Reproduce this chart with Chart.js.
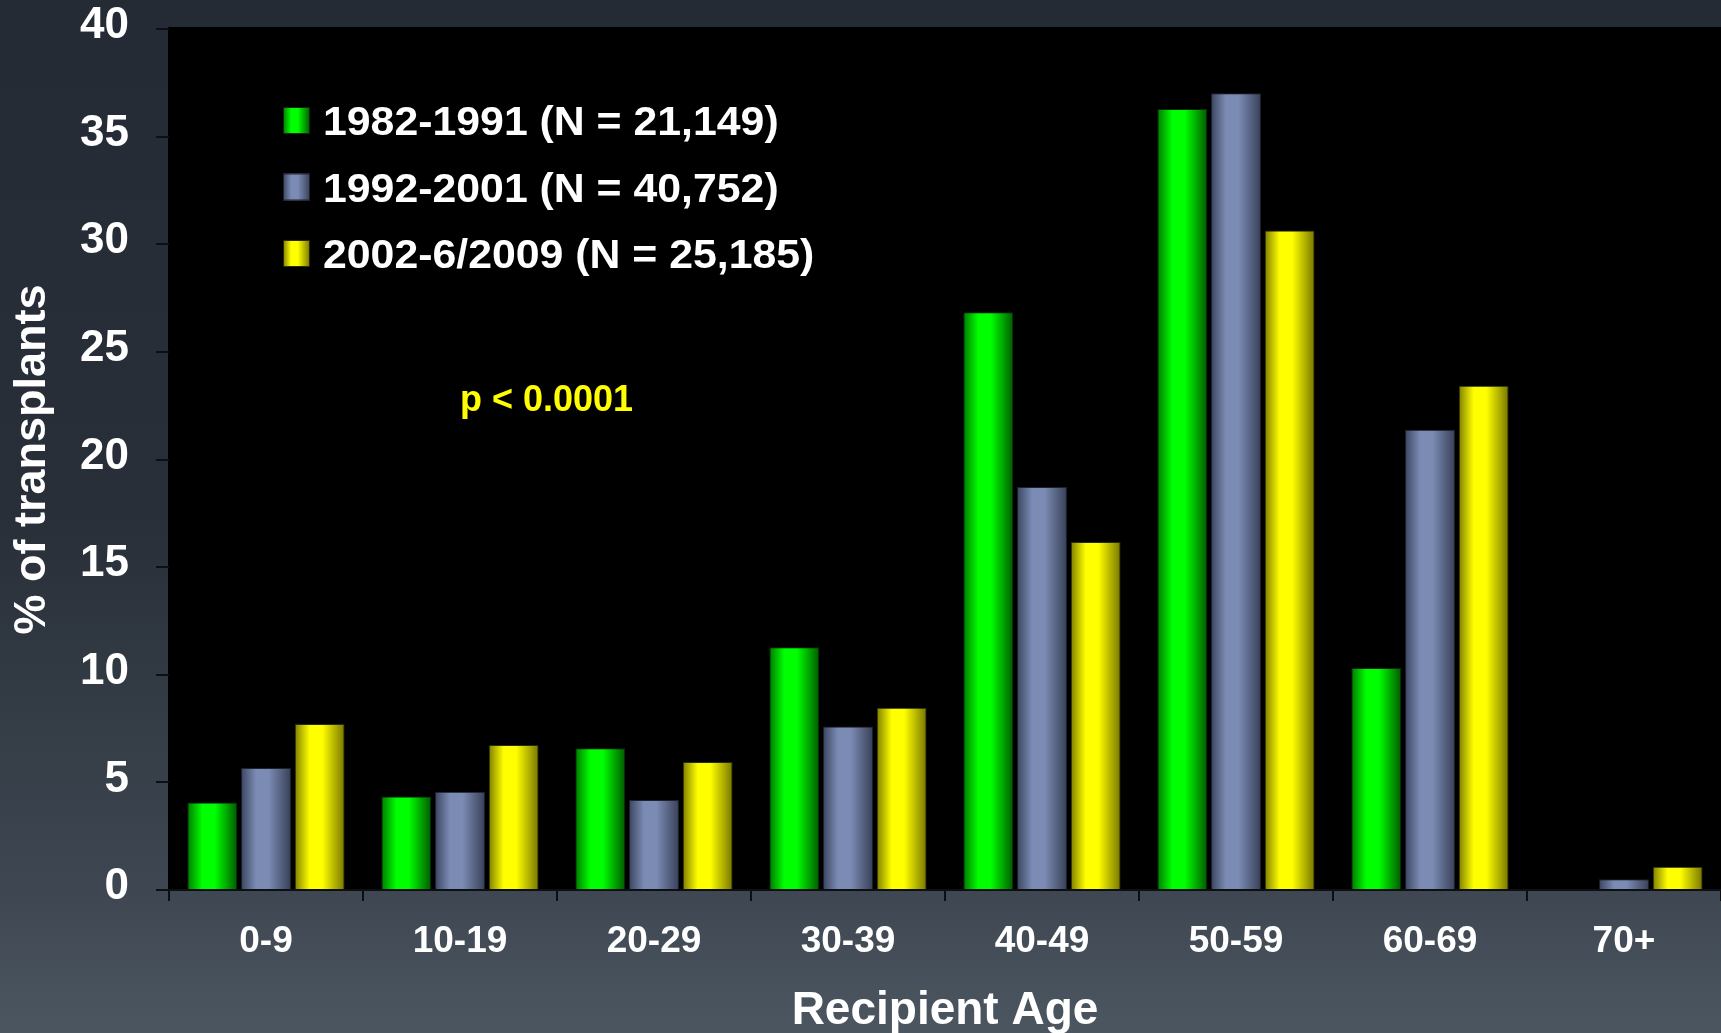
<!DOCTYPE html>
<html>
<head>
<meta charset="utf-8">
<title>Recipient Age distribution</title>
<script src="https://cdn.jsdelivr.net/npm/chart.js@4.4.1/dist/chart.umd.min.js"></script>
<style>
  html, body { margin: 0; padding: 0; background: #252c36; overflow: hidden; }
  #wrap { width: 1721px; height: 1033px; }
</style>
</head>
<body>
<div id="wrap"><canvas id="chart" width="1721" height="1033"></canvas></div>
<script>
// Age groups on the x axis
const categories = ['0-9', '10-19', '20-29', '30-39', '40-49', '50-59', '60-69', '70+'];

// Series labels
const seriesLabels = [
  '1982-1991 (N = 21,149)',
  '1992-2001 (N = 40,752)',
  '2002-6/2009 (N = 25,185)'
];

// % of transplants per age group
const era1982 = [4.07, 4.34, 6.58, 11.28, 26.84, 36.28, 10.31, 0];
const era1992 = [5.67, 4.57, 4.18, 7.60, 18.72, 37.02, 21.38, 0.50];
const era2002 = [7.71, 6.74, 5.95, 8.47, 16.17, 30.64, 23.43, 1.08];

// y axis range
const yMin = 0;
const yMax = 40;
const yStep = 5;

const pValueText = 'p < 0.0001';

// Cylinder-like shading per series: left edge, highlight, right edge
const shades = [
  { left: '#007a00', mid: '#00ff00', right: '#005a00', border: '#0b2a0b' },
  { left: '#3b4660', mid: '#7b8bb4', right: '#394158', border: '#1c2230' },
  { left: '#7f7f00', mid: '#ffff00', right: '#767600', border: '#2a2a00' }
];

const FONT = '"Liberation Sans", Arial, Helvetica, sans-serif';

function shadeGradient(ctx, x0, w, s) {
  const g = ctx.createLinearGradient(x0, 0, x0 + w, 0);
  g.addColorStop(0, s.left);
  g.addColorStop(0.3, s.mid);
  g.addColorStop(0.55, s.mid);
  g.addColorStop(1, s.right);
  return g;
}

// Slide background, black plot panel, bar shading, legend and p-value note
const decorPlugin = {
  id: 'decor',
  beforeDraw(chart) {
    const { ctx, width, height, chartArea } = chart;
    ctx.save();
    const bg = ctx.createLinearGradient(0, 0, 0, height);
    bg.addColorStop(0, '#242b35');
    bg.addColorStop(0.5, '#282f39');
    bg.addColorStop(0.86, '#3e4751');
    bg.addColorStop(1, '#4c5661');
    ctx.fillStyle = bg;
    ctx.fillRect(0, 0, width, height);
    ctx.fillStyle = '#000000';
    ctx.fillRect(chartArea.left - 1, chartArea.top - 2,
                 chartArea.right - chartArea.left + 1, chartArea.bottom - chartArea.top + 2);
    ctx.restore();
  },
  beforeDatasetsDraw(chart) {
    const ctx = chart.ctx;
    chart.data.datasets.forEach((ds, di) => {
      const meta = chart.getDatasetMeta(di);
      meta.data.forEach(el => {
        const x0 = el.x - el.width / 2;
        const g = shadeGradient(ctx, x0, el.width, shades[di]);
        el.options = Object.assign({}, el.options, { backgroundColor: g });
      });
    });
  },
  afterDraw(chart) {
    const ctx = chart.ctx;
    ctx.save();
    // legend
    const boxX = 283, boxSize = 27;
    const rowTops = [107, 173.5, 240];
    ctx.font = 'bold 40px ' + FONT;
    ctx.textBaseline = 'alphabetic';
    ctx.textAlign = 'left';
    chart.data.datasets.forEach((ds, i) => {
      const top = rowTops[i];
      ctx.fillStyle = shadeGradient(ctx, boxX, boxSize, shades[i]);
      ctx.fillRect(boxX, top, boxSize, boxSize);
      ctx.strokeStyle = shades[i].border;
      ctx.lineWidth = 1;
      ctx.strokeRect(boxX + 0.5, top + 0.5, boxSize - 1, boxSize - 1);
      ctx.fillStyle = '#ffffff';
      ctx.save();
      ctx.translate(323, top + 28);
      ctx.scale(1.07, 1);
      ctx.fillText(ds.label, 0, 0);
      ctx.restore();
    });
    // significance note
    ctx.font = 'bold 36px ' + FONT;
    ctx.fillStyle = '#ffff00';
    ctx.fillText(pValueText, 460, 411);
    ctx.restore();
  }
};

const datasets = [era1982, era1992, era2002].map((vals, i) => ({
  label: seriesLabels[i],
  data: vals,
  backgroundColor: shades[i].mid,
  borderColor: shades[i].border,
  borderWidth: 1,
  borderSkipped: 'bottom',
  categoryPercentage: 0.83,
  barPercentage: 0.93
}));

new Chart(document.getElementById('chart'), {
  type: 'bar',
  data: { labels: categories, datasets },
  options: {
    responsive: false,
    animation: false,
    devicePixelRatio: 1,
    layout: { padding: { top: 29, left: 0, right: 0, bottom: 0 } },
    plugins: {
      legend: { display: false },
      tooltip: { enabled: false }
    },
    scales: {
      x: {
        afterFit(scale) { scale.height = 143; },
        grid: {
          display: true,
          drawOnChartArea: false,
          drawTicks: true,
          tickLength: 11,
          color: '#0d0f12',
          lineWidth: 2,
          offset: true
        },
        border: { display: true, color: '#0d0f12', width: 2 },
        ticks: {
          color: '#ffffff',
          font: { family: FONT, size: 37, weight: 'bold' },
          padding: 19,
          maxRotation: 0
        },
        title: {
          display: true,
          text: 'Recipient Age',
          color: '#ffffff',
          font: { family: FONT, size: 46, weight: 'bold', lineHeight: 0.96 },
          padding: 0
        }
      },
      y: {
        min: yMin,
        max: yMax,
        afterFit(scale) {
          scale.width = 169;
          scale.paddingTop = 0;
          scale.paddingBottom = 0;
        },
        grid: {
          display: true,
          drawOnChartArea: false,
          drawTicks: true,
          tickLength: 13,
          color: '#0d0f12',
          lineWidth: 2
        },
        border: { display: false },
        ticks: {
          stepSize: yStep,
          color: '#ffffff',
          font: { family: FONT, size: 44, weight: 'bold' },
          padding: 27,
          labelOffset: -3
        },
        title: {
          display: true,
          text: '% of transplants',
          color: '#ffffff',
          font: { family: FONT, size: 45, weight: 'bold', lineHeight: 1.2 },
          padding: { top: 6, bottom: 0 }
        }
      }
    }
  },
  plugins: [decorPlugin]
});
</script>
</body>
</html>
